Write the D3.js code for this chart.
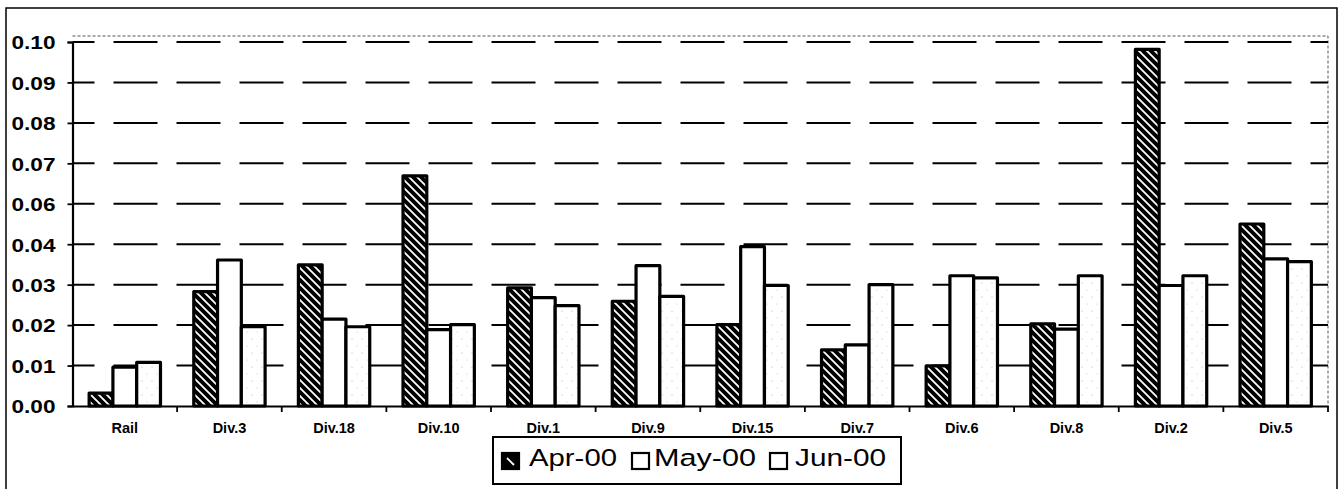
<!DOCTYPE html>
<html>
<head>
<meta charset="utf-8">
<script src="https://cdn.jsdelivr.net/npm/d3@7"></script>
<style>
  html, body { margin: 0; padding: 0; background: #fff; }
  svg { display: block; }
</style>
</head>
<body>
<svg id="chart" width="1343" height="489"></svg>
<script>
// ---- data ----
const categories = ["Rail","Div.3","Div.18","Div.10","Div.1","Div.9","Div.15","Div.7","Div.6","Div.8","Div.2","Div.5"];
const seriesNames = ["Apr-00","May-00","Jun-00"];
const apr = [0.0032, 0.0283, 0.0349, 0.0669, 0.0292, 0.0259, 0.0201, 0.0139, 0.0099, 0.0203, 0.0982, 0.0500];
const may = [0.0096, 0.0361, 0.0215, 0.0189, 0.0268, 0.0347, 0.0394, 0.0151, 0.0322, 0.0190, 0.0298, 0.0364];
const jun = [0.0108, 0.0196, 0.0196, 0.0201, 0.0248, 0.0271, 0.0298, 0.0300, 0.0317, 0.0322, 0.0322, 0.0357];
const yTickValues = [0, 0.01, 0.02, 0.03, 0.04, 0.06, 0.07, 0.08, 0.09, 0.10];
const yTickLabels = ["0.00","0.01","0.02","0.03","0.04","0.06","0.07","0.08","0.09","0.10"];

// ---- layout ----
const svg = d3.select("#chart");
const plot = { left: 72.5, right: 1328, top: 42, bottom: 406 };
const step = (plot.bottom - plot.top) / (yTickValues.length - 1);

const defs = svg.append("defs");
// Apr: black with white diagonal stripes
const pA = defs.append("pattern").attr("id","patA").attr("patternUnits","userSpaceOnUse")
  .attr("width",8).attr("height",8);
pA.append("rect").attr("width",8).attr("height",8).attr("fill","#000");
pA.append("path").attr("d","M-2,-2 L10,10 M-2,6 L2,10 M6,-2 L10,2")
  .attr("stroke","#fff").attr("stroke-width",1.8);
// Jun: white with faint speckles
const pJ = defs.append("pattern").attr("id","patJ").attr("patternUnits","userSpaceOnUse")
  .attr("width",10).attr("height",14);
pJ.append("rect").attr("width",10).attr("height",14).attr("fill","#fff");
pJ.append("circle").attr("cx",2).attr("cy",3).attr("r",0.6).attr("fill","#aaa");
pJ.append("circle").attr("cx",7).attr("cy",10).attr("r",0.5).attr("fill","#bbb");

const fills = ["url(#patA)", "#fff", "url(#patJ)"];
const seriesValues = [apr, may, jun];

// outer border
svg.append("rect").attr("x",6).attr("y",8).attr("width",1331).attr("height",520)
  .attr("fill","none").attr("stroke","#000").attr("stroke-width",1.5);

// scales
const x0 = d3.scaleBand().domain(categories).range([plot.left, plot.right]).padding(0);
const x1 = d3.scaleBand().domain(seriesNames).range([0, x0.bandwidth()])
  .paddingInner(0).paddingOuter(0.7);
const y = d3.scaleLinear().domain(yTickValues)
  .range(yTickValues.map((d,i) => plot.bottom - i*step));

// plot-area border (dotted, gray)
svg.append("path")
  .attr("d", `M${plot.left},${plot.top-6} L${plot.right},${plot.top-6} L${plot.right},${plot.bottom}`)
  .attr("fill","none").attr("stroke","#555").attr("stroke-width",1)
  .attr("stroke-dasharray","3,2");

// gridlines
svg.append("g").selectAll("line").data(yTickValues.slice(1)).join("line")
  .attr("x1", plot.left).attr("x2", plot.right)
  .attr("y1", d => y(d)).attr("y2", d => y(d))
  .attr("stroke","#000").attr("stroke-width",2)
  .attr("stroke-dasharray","44,19").attr("stroke-dashoffset",22);

// bars
const groups = svg.append("g").selectAll("g").data(seriesNames).join("g");
groups.each(function(s, si) {
  d3.select(this).selectAll("rect").data(seriesValues[si]).join("rect")
    .attr("x", (d,i) => x0(categories[i]) + x1(s))
    .attr("width", x1.bandwidth())
    .attr("y", d => y(d))
    .attr("height", d => y(0) - y(d))
    .attr("fill", fills[si])
    .attr("stroke","#000").attr("stroke-width",3.2).attr("stroke-linejoin","round");
});

// y axis
const yAxis = d3.axisLeft(y).tickValues(yTickValues)
  .tickFormat((d,i) => yTickLabels[i]).tickSize(5).tickPadding(12);
const gy = svg.append("g").attr("transform",`translate(${plot.left},0)`).call(yAxis);
gy.select(".domain").attr("stroke","#000").attr("stroke-width",2.2);
gy.selectAll(".tick line").attr("stroke","#000").attr("stroke-width",1.8);
gy.selectAll(".tick text")
  .attr("font-family","Liberation Sans, Arial, sans-serif")
  .attr("font-weight","bold").attr("font-size",19).attr("fill","#000")
  .attr("textLength",44).attr("lengthAdjust","spacingAndGlyphs")
  .attr("dy","0.36em");

// x axis
const xAxis = d3.axisBottom(x0).tickSize(0).tickPadding(0).tickFormat("");
const gx = svg.append("g").attr("transform",`translate(0,${plot.bottom})`).call(xAxis);
gx.select(".domain").attr("stroke","#000").attr("stroke-width",2.2);
// boundary tick marks
svg.append("g").selectAll("line").data(categories.slice(1).concat(["__end"])).join("line")
  .attr("x1", (d,i) => i < categories.length-1 ? x0(d) : plot.right)
  .attr("x2", (d,i) => i < categories.length-1 ? x0(d) : plot.right)
  .attr("y1", plot.bottom).attr("y2", plot.bottom + 6)
  .attr("stroke","#000").attr("stroke-width",1.8);
// category labels
svg.append("g").selectAll("text").data(categories).join("text")
  .attr("x", d => x0(d) + x0.bandwidth()/2)
  .attr("y", 433)
  .attr("text-anchor","middle")
  .attr("font-family","Liberation Sans, Arial, sans-serif")
  .attr("font-weight","bold").attr("font-size",14.5).attr("fill","#000")
  .text(d => d);

// legend
const lg = svg.append("g");
lg.append("rect").attr("x",493).attr("y",437).attr("width",408).attr("height",47)
  .attr("fill","#fff").attr("stroke","#000").attr("stroke-width",2);
const legendPos = [
  { sx: 502, tx: 529, tw: 88 },
  { sx: 632, tx: 654, tw: 102 },
  { sx: 770, tx: 795, tw: 91 }
];
const legendFills = ["#000", "#fff", "#fff"];
seriesNames.forEach((s, i) => {
  lg.append("rect").attr("x", legendPos[i].sx).attr("y", 453)
    .attr("width", 17).attr("height", 16)
    .attr("fill", legendFills[i]).attr("stroke","#000").attr("stroke-width",2.2);
  if (i === 0) {
    lg.append("line")
      .attr("x1", legendPos[i].sx + 5).attr("y1", 458)
      .attr("x2", legendPos[i].sx + 12).attr("y2", 465)
      .attr("stroke","#fff").attr("stroke-width",1.8);
  }
  lg.append("text").attr("x", legendPos[i].tx).attr("y", 466)
    .attr("font-family","Liberation Sans, Arial, sans-serif")
    .attr("font-size",24.5).attr("fill","#000")
    .attr("textLength", legendPos[i].tw).attr("lengthAdjust","spacingAndGlyphs")
    .text(s);
});
</script>
</body>
</html>
